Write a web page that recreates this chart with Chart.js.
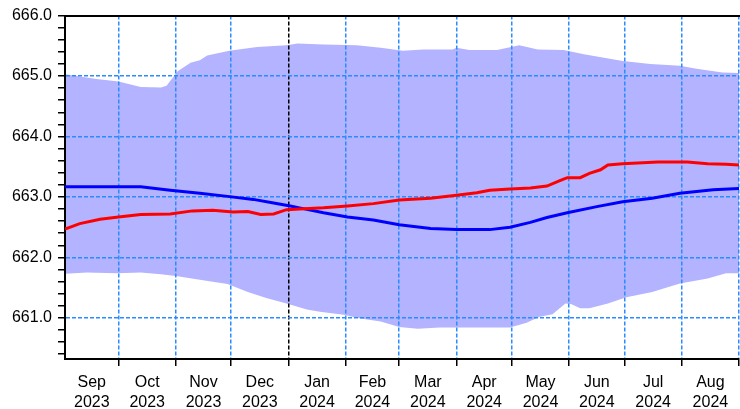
<!DOCTYPE html>
<html>
<head>
<meta charset="utf-8">
<script src="https://cdn.jsdelivr.net/npm/chart.js@4.4.1/dist/chart.umd.min.js"></script>
<style>
  html, body { margin: 0; padding: 0; background: #fff; }
  #wrap { width: 740px; height: 409px; }
</style>
</head>
<body>
<div id="wrap"><canvas id="chart" width="740" height="409"></canvas></div>
<script>
// x values are days counted from 1 Sep 2023
const monthNames = ['Sep', 'Oct', 'Nov', 'Dec', 'Jan', 'Feb', 'Mar', 'Apr', 'May', 'Jun', 'Jul', 'Aug'];
const monthYears = ['2023', '2023', '2023', '2023', '2024', '2024', '2024', '2024', '2024', '2024', '2024', '2024'];
const yearStartDay = 122; // 1 Jan 2024

const xMin = 1, xMax = 366;
const yMin = 660.32, yMax = 666.0;

// Shaded band: upper and lower envelope
const upperDays = [1, 18, 30, 42, 53, 56, 62, 69, 74, 78, 90, 105, 121, 127, 141, 159, 172, 184, 195, 211, 213, 220, 235, 247, 257, 271, 282, 303, 318, 334, 343, 357, 366];
const upperLevels = [665.03, 664.95, 664.91, 664.82, 664.81, 664.84, 665.08, 665.22, 665.26, 665.34, 665.42, 665.48, 665.51, 665.54, 665.52, 665.51, 665.47, 665.42, 665.44, 665.44, 665.47, 665.43, 665.43, 665.51, 665.44, 665.43, 665.36, 665.25, 665.2, 665.17, 665.12, 665.06, 665.05];

const lowerDays = [1, 13, 29, 42, 53, 62, 74, 89, 100, 110, 121, 132, 139, 152, 161, 172, 182, 192, 204, 219, 242, 251, 258, 265, 272, 275, 280, 285, 295, 305, 319, 334, 349, 359, 366];
const lowerLevels = [661.73, 661.75, 661.74, 661.75, 661.72, 661.69, 661.63, 661.56, 661.43, 661.33, 661.24, 661.14, 661.10, 661.05, 660.99, 660.94, 660.85, 660.82, 660.84, 660.84, 660.84, 660.92, 661.02, 661.06, 661.24, 661.23, 661.16, 661.16, 661.24, 661.34, 661.43, 661.57, 661.65, 661.74, 661.74];

// Red series
const redDays = [1, 9, 20, 30, 42, 58, 70, 81, 92, 100, 107, 114, 121, 128, 141, 154, 168, 182, 199, 213, 224, 231, 242, 253, 262, 269, 273, 280, 285, 291, 295, 303, 322, 338, 349, 359, 366];
const redLevels = [662.47, 662.56, 662.63, 662.67, 662.71, 662.72, 662.77, 662.78, 662.75, 662.76, 662.71, 662.72, 662.79, 662.80, 662.82, 662.85, 662.89, 662.95, 662.98, 663.03, 663.07, 663.11, 663.13, 663.15, 663.18, 663.27, 663.32, 663.32, 663.39, 663.45, 663.53, 663.55, 663.58, 663.58, 663.55, 663.54, 663.53];

// Blue series
const blueDays = [1, 42, 58, 74, 89, 103, 114, 123, 128, 141, 154, 168, 182, 199, 213, 231, 242, 253, 262, 273, 289, 303, 319, 334, 352, 366];
const blueLevels = [663.17, 663.17, 663.11, 663.06, 663.01, 662.96, 662.90, 662.85, 662.82, 662.74, 662.67, 662.62, 662.54, 662.48, 662.46, 662.46, 662.50, 662.58, 662.66, 662.74, 662.84, 662.92, 662.98, 663.06, 663.12, 663.14];

// month boundaries as day offsets
const startUTC = Date.UTC(2023, 8, 1);
const monthStarts = [];
for (let i = 0; i <= 12; i++) {
  monthStarts.push(Math.round((Date.UTC(2023, 8 + i, 1) - startUTC) / 86400000));
}

// y ticks: majors every 1.0, minors every 0.2
const yTicks = [];
for (let v = Math.ceil(yMin * 5) / 5; v <= yMax + 1e-6; v += 0.2) {
  yTicks.push(Math.round(v * 10) / 10);
}

const toPoints = (days, vals) => days.map((d, i) => ({ x: d, y: vals[i] }));
const isMajor = (v) => Math.abs(v - Math.round(v)) < 1e-6;

const gridBlue = '#2B8CFF';
const textColor = '#000';
const font = { family: 'Arial, "Liberation Sans", sans-serif', size: 16 };

new Chart(document.getElementById('chart'), {
  type: 'line',
  data: {
    datasets: [
      {
        label: 'Red',
        data: toPoints(redDays, redLevels),
        borderColor: '#FF0000',
        borderWidth: 3,
        pointRadius: 0,
        fill: false,
        order: 0
      },
      {
        label: 'Blue',
        data: toPoints(blueDays, blueLevels),
        borderColor: '#0000FF',
        borderWidth: 3,
        pointRadius: 0,
        fill: false,
        order: 1
      },
      {
        label: 'Upper',
        data: toPoints(upperDays, upperLevels),
        borderWidth: 0,
        borderColor: 'rgba(0,0,0,0)',
        backgroundColor: 'rgb(179,179,255)',
        pointRadius: 0,
        fill: '+1',
        order: 2
      },
      {
        label: 'Lower',
        data: toPoints(lowerDays, lowerLevels),
        borderWidth: 0,
        borderColor: 'rgba(0,0,0,0)',
        pointRadius: 0,
        fill: false,
        order: 3
      }
    ]
  },
  options: {
    responsive: false,
    animation: false,
    devicePixelRatio: 1,
    layout: { padding: { top: 15, right: 1, left: 0, bottom: 0 } },
    plugins: {
      legend: { display: false },
      tooltip: { enabled: false },
      filler: { drawTime: 'beforeDraw' }
    },
    scales: {
      x: {
        type: 'linear',
        position: 'bottom',
        weight: 1,
        min: xMin,
        max: xMax,
        afterBuildTicks: (scale) => {
          scale.ticks = monthStarts.filter(d => d >= xMin && d <= xMax).map(d => ({ value: d }));
        },
        ticks: { display: false, autoSkip: false },
        grid: {
          color: (c) => (c.tick && c.tick.value === yearStartDay) ? '#000' : gridBlue,
          lineWidth: 1.5,
          drawTicks: true,
          tickLength: 7,
          tickColor: '#000',
          tickWidth: 1.5
        },
        border: { display: true, color: '#000', width: 2, dash: [4, 2] }
      },
      xl: {
        type: 'linear',
        position: 'bottom',
        weight: 2,
        min: xMin,
        max: xMax,
        afterBuildTicks: (scale) => {
          const t = [];
          for (let i = 0; i < 12; i++) {
            const a = Math.max(monthStarts[i], xMin);
            const b = Math.min(monthStarts[i + 1], xMax);
            t.push({ value: (a + b) / 2 });
          }
          scale.ticks = t;
        },
        afterFit: (scale) => { scale.height = 43; },
        ticks: {
          autoSkip: false,
          maxRotation: 0,
          padding: 7,
          color: textColor,
          font: { ...font, lineHeight: 1.25 },
          callback: (v, i) => [monthNames[i], monthYears[i]]
        },
        grid: { display: false, drawTicks: false },
        border: { display: false }
      },
      xt: {
        type: 'linear',
        position: 'top',
        min: xMin,
        max: xMax,
        ticks: { display: false },
        grid: { display: false, drawTicks: false },
        border: { display: true, color: '#000', width: 2 }
      },
      y: {
        type: 'linear',
        position: 'left',
        min: yMin,
        max: yMax,
        afterBuildTicks: (scale) => {
          scale.ticks = yTicks.map(v => ({ value: v }));
        },
        afterFit: (scale) => { scale.width = 65; },
        ticks: {
          autoSkip: false,
          padding: 6,
          color: textColor,
          font: font,
          callback: (v) => isMajor(v) ? v.toFixed(1) : ''
        },
        grid: {
          color: (c) => (c.tick && isMajor(c.tick.value)) ? gridBlue : 'rgba(0,0,0,0)',
          lineWidth: 1.5,
          drawTicks: true,
          tickLength: 7,
          tickColor: '#000',
          tickWidth: 1.5
        },
        border: { display: true, color: '#000', width: 2, dash: [4, 2] }
      }
    }
  }
});
</script>
</body>
</html>
